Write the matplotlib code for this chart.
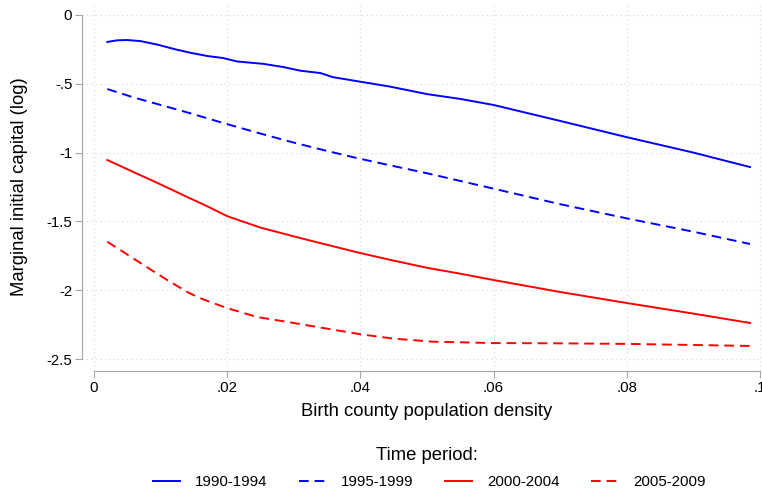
import matplotlib
matplotlib.use("Agg")
import matplotlib.pyplot as plt

plt.rcParams['font.family'] = ['Liberation Sans', 'DejaVu Sans']

# ---- data ----
x_9094 = [0.002, 0.0035, 0.005, 0.007, 0.0095, 0.012, 0.0144, 0.017, 0.0194, 0.0215, 0.0254,
          0.0284, 0.031, 0.034, 0.0359, 0.04, 0.0444, 0.05, 0.055, 0.06, 0.07, 0.08, 0.09, 0.0985]
y_9094 = [-0.196, -0.184, -0.182, -0.19, -0.215, -0.247, -0.274, -0.298, -0.313, -0.338, -0.355,
          -0.378, -0.405, -0.422, -0.452, -0.485, -0.52, -0.575, -0.61, -0.654, -0.77, -0.888,
          -1.0, -1.105]

x_9599 = [0.002, 0.006, 0.0095, 0.0145, 0.0194, 0.0245, 0.0294, 0.0344, 0.0395, 0.0444,
          0.05, 0.06, 0.07, 0.08, 0.09, 0.0985]
y_9599 = [-0.538, -0.6, -0.647, -0.715, -0.785, -0.855, -0.92, -0.981, -1.04, -1.092,
          -1.15, -1.262, -1.375, -1.478, -1.575, -1.664]

x_0004 = [0.002, 0.0069, 0.0095, 0.0141, 0.017, 0.02, 0.025, 0.0309, 0.035, 0.04, 0.045,
          0.05, 0.055, 0.06, 0.07, 0.08, 0.09, 0.0985]
y_0004 = [-1.054, -1.163, -1.22, -1.325, -1.39, -1.462, -1.545, -1.62, -1.67, -1.73, -1.785,
          -1.837, -1.88, -1.926, -2.013, -2.093, -2.17, -2.238]

x_0509 = [0.002, 0.0045, 0.0069, 0.009, 0.011, 0.014, 0.0159, 0.018, 0.02, 0.0245, 0.029,
          0.0335, 0.04, 0.045, 0.0509, 0.06, 0.07, 0.08, 0.09, 0.0985]
y_0509 = [-1.648, -1.725, -1.8, -1.865, -1.926, -2.013, -2.057, -2.095, -2.13, -2.195, -2.23,
          -2.267, -2.32, -2.352, -2.374, -2.384, -2.386, -2.39, -2.398, -2.405]

series_labels = ["1990-1994", "1995-1999", "2000-2004", "2005-2009"]
x_ticks = [0, 0.02, 0.04, 0.06, 0.08, 0.1]
x_ticklabels = ["0", ".02", ".04", ".06", ".08", ".1"]
y_ticks = [0, -0.5, -1, -1.5, -2, -2.5]
y_ticklabels = ["0", "-.5", "-1", "-1.5", "-2", "-2.5"]

W, H = 762, 493
fig = plt.figure(figsize=(W / 100, H / 100), dpi=100)
ax = fig.add_axes([82 / W, (H - 371) / H, 680 / W, 368 / H])

lw = 1.4
dash = (0, (5, 3))
ax.plot(x_9094, y_9094, color='#0000ff', lw=lw, label=series_labels[0])
ax.plot(x_9599, y_9599, color='#0000ff', lw=lw, linestyle=dash, label=series_labels[1])
ax.plot(x_0004, y_0004, color='#ff0000', lw=lw, label=series_labels[2])
ax.plot(x_0509, y_0509, color='#ff0000', lw=lw, linestyle=dash, label=series_labels[3])

ax.set_xlim(-0.0018, 0.1003)
ax.set_ylim(-2.587, 0.087)

ax.set_xticks(x_ticks)
ax.set_xticklabels(x_ticklabels)
ax.set_yticks(y_ticks)
ax.set_yticklabels(y_ticklabels)

gray = '#a8a8a8'
for s in ['top', 'right']:
    ax.spines[s].set_visible(False)
ax.spines['left'].set_bounds(-2.5, 0)
ax.spines['bottom'].set_bounds(0, 0.1)
for s in ['left', 'bottom']:
    ax.spines[s].set_color(gray)
    ax.spines[s].set_linewidth(0.8)
ax.tick_params(axis='both', colors=gray, labelcolor='black', labelsize=10.8,
               length=5, width=0.8, pad=2)

ax.grid(True, color='#d4d4d4', linestyle=(0, (1, 3)), linewidth=0.8)
ax.set_axisbelow(True)

fig.text(427 / W, 1 - 412 / H, "Birth county population density", fontsize=13.3,
         ha='center', va='center')
fig.text(20 / W, 1 - 187 / H, "Marginal initial capital (log)", fontsize=13.3,
         ha='center', va='center', rotation=90)
fig.text(427 / W, 1 - 455 / H, "Time period:", fontsize=13.3, ha='center', va='center')

handles, labels = ax.get_legend_handles_labels()
fig.legend(handles, labels, loc='center', bbox_to_anchor=(429 / W, 1 - 482 / H), ncol=4,
           frameon=False, fontsize=10.8, handlelength=1.8, handletextpad=1.0,
           columnspacing=2.1, borderpad=0, borderaxespad=0)

fig.savefig("out.png", dpi=100)
